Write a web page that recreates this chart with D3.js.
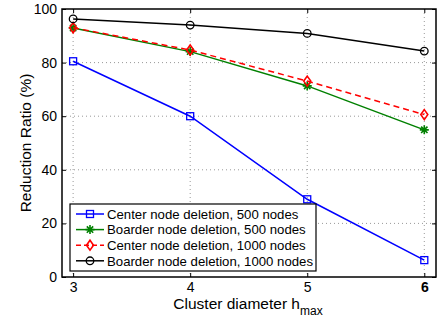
<!DOCTYPE html>
<html>
<head>
<meta charset="utf-8">
<script src="https://cdn.jsdelivr.net/npm/d3@7"></script>
<style>
body { margin: 0; background: #fff; }
svg text { font-family: "Liberation Sans", Arial, sans-serif; }
</style>
</head>
<body>
<svg width="438" height="321"></svg>
<script>
const hmax = [3, 4, 5, 6];
const centre500 = [80.5, 60.0, 29.0, 6.3];
const boarder500 = [92.9, 84.1, 71.3, 54.9];
const centre1000 = [93.0, 84.7, 73.1, 60.6];
const boarder1000 = [96.3, 94.0, 90.9, 84.3];
const yTicks = [0, 20, 40, 60, 80, 100];
const seriesNames = [
    "Center node deletion, 500 nodes",
    "Boarder node deletion, 500 nodes",
    "Center node deletion, 1000 nodes",
    "Boarder node deletion, 1000 nodes"
];

const series = [
    { name: seriesNames[0], values: centre500, color: "#0000ff", marker: "square", dash: null },
    { name: seriesNames[1], values: boarder500, color: "#008000", marker: "star", dash: null },
    { name: seriesNames[2], values: centre1000, color: "#ff0000", marker: "diamond", dash: "6,4" },
    { name: seriesNames[3], values: boarder1000, color: "#000000", marker: "circle", dash: null }
];

const svg = d3.select("svg");
const pLeft = 62, pRight = 436, pTop = 9, pBottom = 277;

const x = d3.scaleLinear().domain([2.905, 6.1]).range([pLeft, pRight]);
const y = d3.scaleLinear().domain([0, 100]).range([pBottom, pTop]);

// grid
const grid = svg.append("g").attr("stroke", "#999").attr("stroke-dasharray", "1,3").attr("stroke-width", 1);
hmax.forEach(v => grid.append("line")
    .attr("x1", x(v)).attr("x2", x(v)).attr("y1", pTop).attr("y2", pBottom));
yTicks.slice(1, -1).forEach(v => grid.append("line")
    .attr("x1", pLeft).attr("x2", pRight).attr("y1", y(v)).attr("y2", y(v)));

// axes
const xAxis = svg.append("g").attr("transform", `translate(0,${pBottom})`)
    .call(d3.axisBottom(x).tickValues(hmax).tickFormat(d3.format("d")).tickSize(-4).tickPadding(5));
const xAxisTop = svg.append("g").attr("transform", `translate(0,${pTop})`)
    .call(d3.axisTop(x).tickValues(hmax).tickFormat("").tickSize(-4));
const yAxis = svg.append("g").attr("transform", `translate(${pLeft},0)`)
    .call(d3.axisLeft(y).tickValues(yTicks).tickSize(-4).tickPadding(5));
const yAxisRight = svg.append("g").attr("transform", `translate(${pRight},0)`)
    .call(d3.axisRight(y).tickValues(yTicks).tickFormat("").tickSize(-4));
[xAxis, xAxisTop, yAxis, yAxisRight].forEach(g => {
    g.select(".domain").remove();
    g.selectAll("line").attr("stroke", "#000");
    g.selectAll("text").attr("font-size", 14).attr("fill", "#000");
});
xAxis.selectAll("text").filter(d => d === 6).attr("font-weight", "bold");

svg.append("rect").attr("x", pLeft).attr("y", pTop)
    .attr("width", pRight - pLeft).attr("height", pBottom - pTop)
    .attr("fill", "none").attr("stroke", "#000").attr("stroke-width", 1.5);

// markers
function drawMarker(g, type, color, cx, cy) {
    if (type === "square") {
        g.append("rect").attr("x", cx - 3.5).attr("y", cy - 3.5).attr("width", 7).attr("height", 7)
            .attr("fill", "none").attr("stroke", color).attr("stroke-width", 1.3);
    } else if (type === "circle") {
        g.append("circle").attr("cx", cx).attr("cy", cy).attr("r", 3.8)
            .attr("fill", "none").attr("stroke", color).attr("stroke-width", 1.3);
    } else if (type === "diamond") {
        g.append("path").attr("d", `M${cx},${cy - 5}L${cx + 3.5},${cy}L${cx},${cy + 5}L${cx - 3.5},${cy}Z`)
            .attr("fill", "none").attr("stroke", color).attr("stroke-width", 1.6);
    } else if (type === "star") {
        const r = 4.5;
        let d = "";
        for (let k = 0; k < 4; k++) {
            const a = k * Math.PI / 4;
            d += `M${cx - r * Math.cos(a)},${cy - r * Math.sin(a)}L${cx + r * Math.cos(a)},${cy + r * Math.sin(a)}`;
        }
        g.append("path").attr("d", d).attr("stroke", color).attr("stroke-width", 1.6);
    }
}

const line = d3.line().x((d, i) => x(hmax[i])).y(d => y(d));
series.forEach(s => {
    const g = svg.append("g");
    g.append("path").datum(s.values).attr("d", line)
        .attr("fill", "none").attr("stroke", s.color).attr("stroke-width", 1.5)
        .attr("stroke-dasharray", s.dash);
    s.values.forEach((v, i) => drawMarker(g, s.marker, s.color, x(hmax[i]), y(v)));
});

// legend
const lg = svg.append("g").attr("transform", "translate(70,204)");
lg.append("rect").attr("width", 246).attr("height", 67)
    .attr("fill", "#fff").attr("stroke", "#000").attr("stroke-width", 1.2);
series.forEach((s, i) => {
    const yy = 10 + i * 15.6;
    lg.append("line").attr("x1", 6).attr("x2", 34).attr("y1", yy).attr("y2", yy)
        .attr("stroke", s.color).attr("stroke-width", 1.5).attr("stroke-dasharray", s.dash ? "5,3" : null);
    drawMarker(lg, s.marker, s.color, 20, yy);
    lg.append("text").attr("x", 37).attr("y", yy).attr("dy", "0.36em")
        .attr("font-size", 13.2).text(s.name);
});

// axis titles
const xt = svg.append("text").attr("x", 248).attr("y", 309).attr("text-anchor", "middle").attr("font-size", 15.5);
xt.append("tspan").text("Cluster diameter h");
xt.append("tspan").attr("dy", 6).attr("font-size", 12).text("max");
svg.append("text").attr("transform", `translate(31,${(pTop + pBottom) / 2}) rotate(-90)`)
    .attr("text-anchor", "middle").attr("font-size", 15.5).text("Reduction Ratio (%)");
</script>
</body>
</html>
